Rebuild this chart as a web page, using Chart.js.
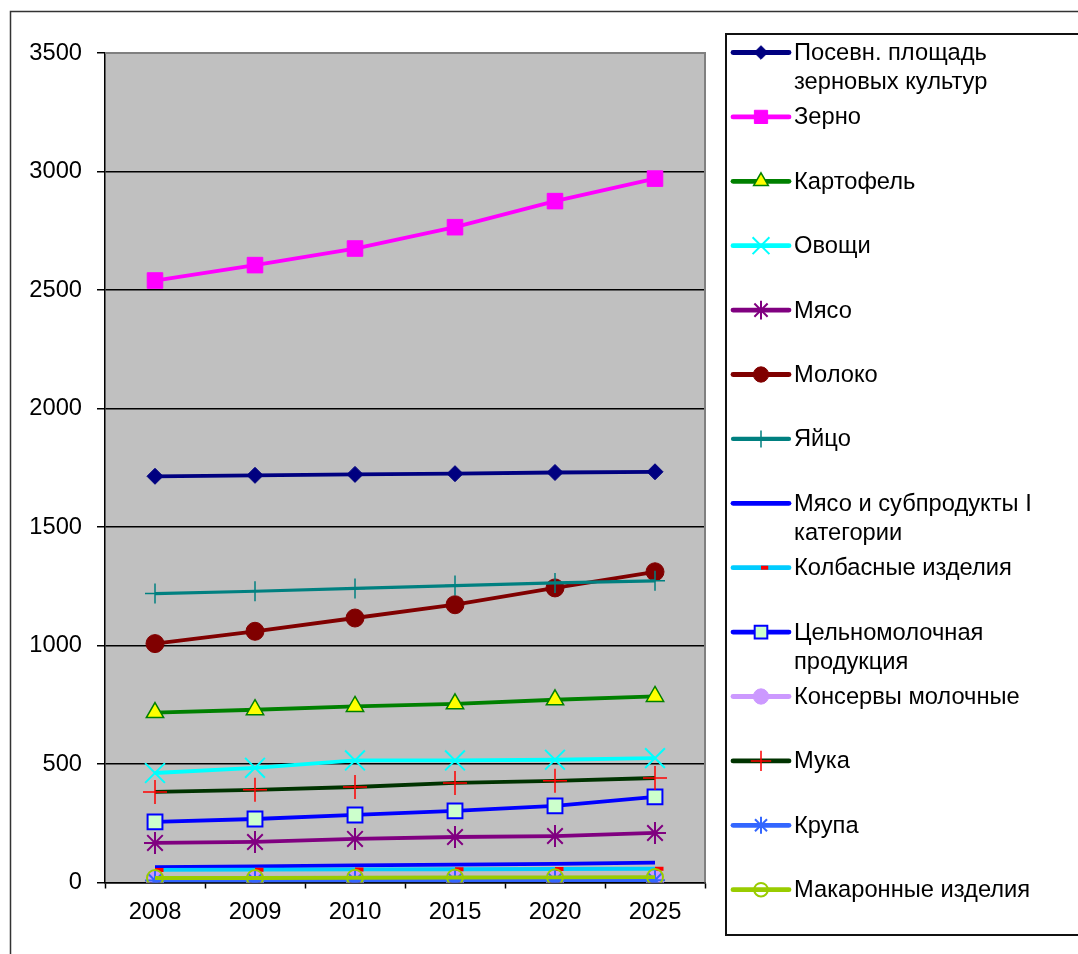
<!DOCTYPE html>
<html>
<head>
<meta charset="utf-8">
<script src="https://cdn.jsdelivr.net/npm/chart.js@4/dist/chart.umd.min.js"></script>
<style>
  body { margin:0; background:#fff; }
  #wrap { position:relative; width:1078px; height:954px; }
</style>
</head>
<body>
<div id="wrap"><canvas id="foodChart"></canvas></div>
<script>
const years = ['2008', '2009', '2010', '2015', '2020', '2025']

const posevnPloshad = [1714, 1718, 1722, 1725, 1730, 1733]
const zerno = [2540, 2605, 2675, 2765, 2875, 2970]
const kartofel = [717, 729, 743, 754, 771, 785]
const ovoshchi = [462, 484, 515, 515, 518, 525]
const myaso = [167, 171, 184, 192, 196, 209]
const moloko = [1008, 1060, 1116, 1172, 1243, 1311]
const yaytso = [1219, 1229, 1241, 1253, 1264, 1273]
const myasoSubprodukty = [65, 68, 72, 75, 79, 84]
const kolbasnye = [53, 54, 55, 56, 57, 58]
const tselnomolochnaya = [256, 268, 285, 302, 323, 361]
const konservyMolochnye = [10, 10, 10, 10, 10, 10]
const muka = [382, 391, 403, 420, 429, 441]
const krupa = [8, 8, 9, 9, 10, 10]
const makaronnye = [19, 19, 20, 21, 22, 23]

const yTicks = [0, 500, 1000, 1500, 2000, 2500, 3000, 3500]

const FONT = "'Liberation Sans', Arial, sans-serif"
const FONT_SIZE = 23.7

// label, data, line colour, line width, marker style, radius, marker fill, marker border, marker border width
function series(label, data, color, width, style, radius, fill, border, bw){
  return {
    label: label,
    data: data,
    borderColor: color,
    backgroundColor: color,
    borderWidth: width,
    pointStyle: style,
    pointRadius: radius,
    pointHoverRadius: radius,
    pointBackgroundColor: fill,
    pointBorderColor: border,
    pointBorderWidth: bw,
    tension: 0
  }
}

const datasets = [
  series(['Посевн. площадь', 'зерновых культур'], posevnPloshad, '#000080', 3.8, 'rectRot', 8, '#000080', '#000080', 1),
  series(['Зерно'], zerno, '#FF00FF', 3.8, 'rect', 11, '#FF00FF', '#FF00FF', 1),
  series(['Картофель'], kartofel, '#008000', 3.8, 'triangle', 10, '#FFFF00', '#008000', 1.5),
  series(['Овощи'], ovoshchi, '#00FFFF', 3.8, 'crossRot', 14, '#00FFFF', '#00FFFF', 2),
  series(['Мясо'], myaso, '#800080', 3.8, 'star', 11, '#800080', '#800080', 2),
  series(['Молоко'], moloko, '#800000', 3.8, 'circle', 9, '#800000', '#800000', 1),
  series(['Яйцо'], yaytso, '#008080', 3.2, 'cross', 10, '#008080', '#008080', 1.5),
  series(['Мясо и субпродукты I', 'категории'], myasoSubprodukty, '#0000FF', 3.8, 'circle', 0, '#0000FF', '#0000FF', 0),
  series(['Колбасные изделия'], kolbasnye, '#00CCFF', 3.8, 'dash', 8.5, '#FF0000', '#FF0000', 4),
  series(['Цельномолочная', 'продукция'], tselnomolochnaya, '#0000FF', 3.8, 'rect', 10.5, '#CCFFCC', '#0000FF', 2),
  series(['Консервы молочные'], konservyMolochnye, '#CC99FF', 3.8, 'circle', 9, '#CC99FF', '#CC99FF', 1),
  series(['Мука'], muka, '#003300', 3.8, 'cross', 12, '#FF0000', '#FF0000', 1.5),
  series(['Крупа'], krupa, '#3366FF', 3.8, 'star', 10, '#3366FF', '#3366FF', 2),
  series(['Макаронные изделия'], makaronnye, '#99CC00', 3.8, 'circle', 8, 'rgba(0,0,0,0)', '#99CC00', 2)
]

// later series sit on top, like the original
datasets.forEach((d, i) => { d.order = datasets.length - i })

const framePlugin = {
  id: 'frame',
  beforeDraw(chart){
    const a = chart.chartArea
    const ctx = chart.ctx
    ctx.save()
    ctx.fillStyle = '#C0C0C0'
    ctx.fillRect(a.left, a.top, a.right - a.left, a.bottom - a.top)
    ctx.restore()
  },
  afterDraw(chart){
    const a = chart.chartArea
    const ctx = chart.ctx
    ctx.save()

    // plot area top / right edge
    ctx.strokeStyle = '#808080'
    ctx.lineWidth = 2
    ctx.beginPath()
    ctx.moveTo(a.left, a.top)
    ctx.lineTo(a.right, a.top)
    ctx.lineTo(a.right, a.bottom)
    ctx.stroke()

    // outer border
    ctx.strokeStyle = '#333'
    ctx.lineWidth = 1.5
    ctx.strokeRect(10.5, 11.5, 2000, 2000)

    // legend box
    ctx.strokeStyle = '#111'
    ctx.lineWidth = 2
    ctx.strokeRect(726, 34, 1000, 901)

    // legend entries
    ctx.font = FONT_SIZE + 'px ' + FONT
    ctx.textBaseline = 'middle'
    ctx.textAlign = 'left'
    chart.data.datasets.forEach((d, i) => {
      const y = 52.5 + i * 64.4
      ctx.strokeStyle = d.borderColor
      ctx.lineWidth = d.borderWidth + 1
      ctx.lineCap = 'round'
      ctx.beginPath()
      ctx.moveTo(733, y)
      ctx.lineTo(789, y)
      ctx.stroke()
      ctx.lineCap = 'butt'
      if (d.pointRadius > 0) {
        ctx.fillStyle = d.pointBackgroundColor
        ctx.strokeStyle = d.pointBorderColor
        ctx.lineWidth = d.pointBorderWidth
        Chart.helpers.drawPoint(ctx, {
          pointStyle: d.pointStyle,
          radius: d.pointRadius * 0.85,
          rotation: 0,
          borderWidth: d.pointBorderWidth
        }, 761, y)
      }
      ctx.fillStyle = '#000'
      d.label.forEach((t, k) => {
        ctx.fillText(t, 794, y + 1 + k * 29)
      })
    })
    ctx.restore()
  }
}

new Chart(document.getElementById('foodChart'), {
  type: 'line',
  data: {
    labels: years,
    datasets: datasets
  },
  options: {
    responsive: true,
    maintainAspectRatio: false,
    animation: false,
    layout: {
      padding: { left: 0, top: 53, right: 373, bottom: 0 }
    },
    plugins: {
      legend: { display: false },
      tooltip: { enabled: false }
    },
    scales: {
      x: {
        offset: true,
        afterFit(s){ s.height = 71.5 },
        grid: {
          offset: true,
          drawOnChartArea: false,
          tickLength: 6,
          tickColor: '#000',
          tickWidth: 1.5
        },
        border: { display: true, color: '#000', width: 1.5 },
        ticks: {
          color: '#000',
          padding: 10,
          font: { family: FONT, size: FONT_SIZE },
          maxRotation: 0
        }
      },
      y: {
        min: 0,
        max: 3500,
        afterFit(s){ s.width = 105 },
        afterBuildTicks(s){ s.ticks = yTicks.map(v => ({ value: v })) },
        grid: {
          color: c => (c.tick && c.tick.value === 3500) ? 'rgba(0,0,0,0)' : '#000',
          lineWidth: 1.5,
          tickLength: 8,
          tickColor: '#000',
          tickWidth: 1.5
        },
        border: { display: true, color: '#000', width: 1.5 },
        ticks: {
          color: '#000',
          padding: 15,
          font: { family: FONT, size: FONT_SIZE },
          callback: v => String(v)
        }
      }
    }
  },
  plugins: [framePlugin]
})
</script>
</body>
</html>
